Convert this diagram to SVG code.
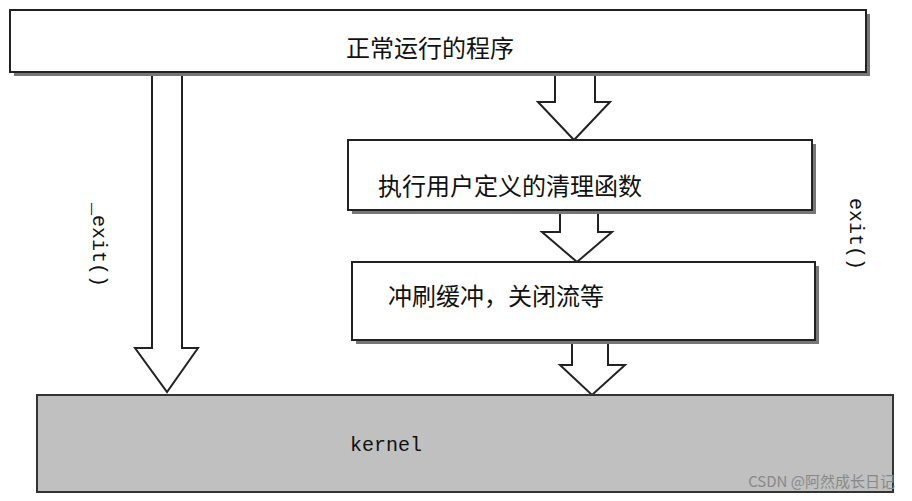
<svg xmlns="http://www.w3.org/2000/svg" width="912" height="501" viewBox="0 0 912 501">
<style>
.box{fill:#fff;stroke:#222;stroke-width:2}
.sh{fill:#777}
.arr{fill:#fff;stroke:#222;stroke-width:2}
.t{font-family:"Noto Sans CJK SC",sans-serif;font-size:24px;fill:#111}
.m{font-family:"Liberation Mono",monospace;font-size:20px;fill:#111}
</style>
<rect width="912" height="501" fill="#fff"/>
<g id="connectors">
<path class="arr" d="M152 74h30v274h16l-31 44l-32-44h17z"/>
<path class="arr" d="M555 74h40v28h15l-36 38l-36-38h17z"/>
<path class="arr" d="M560 212h38v20h14l-35 30l-35-30h18z"/>
<path class="arr" d="M572 342h36v23h17l-33 30l-32-30h12z"/>
</g>
<g id="top">
<rect class="sh" x="14" y="14" width="856" height="62"/>
<rect class="box" x="10" y="10" width="856" height="62"/>
<text class="t" x="430" y="57" text-anchor="middle">正常运行的程序</text>
</g>
<g id="cleanup">
<rect class="sh" x="352" y="144" width="464" height="70"/>
<rect class="box" x="348" y="140" width="464" height="70"/>
<text class="t" x="378" y="195">执行用户定义的清理函数</text>
</g>
<g id="flush">
<rect class="sh" x="356" y="266" width="463" height="78"/>
<rect class="box" x="352" y="262" width="463" height="78"/>
<text class="t" x="388" y="305">冲刷缓冲，关闭流等</text>
</g>
<g id="kernel">
<rect x="37" y="395" width="856" height="97" fill="#c0c0c0" stroke="#333" stroke-width="2"/>
<text class="m" x="350" y="451">kernel</text>
</g>
<text class="m" transform="translate(93 203) rotate(90)">_exit()</text>
<text class="m" transform="translate(850 198) rotate(90)">exit()</text>
<text x="895" y="487" text-anchor="end" font-family="Noto Sans CJK SC,sans-serif" font-size="15" fill="#888">CSDN @阿然成长日记</text>
</svg>
